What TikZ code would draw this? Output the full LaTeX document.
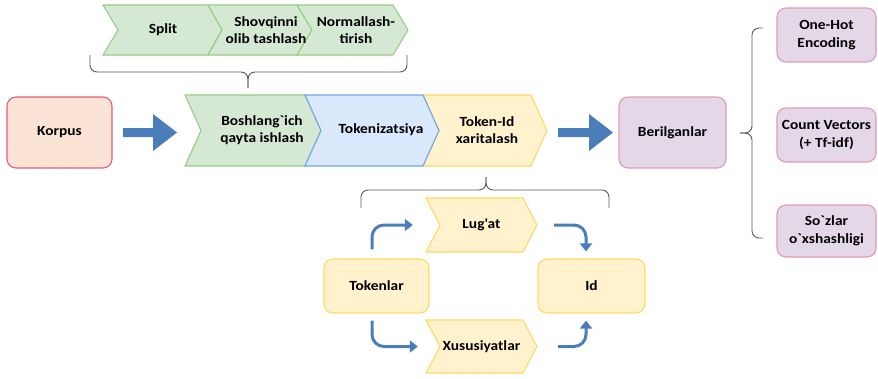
\documentclass[tikz,border=0pt]{standalone}
\usepackage{fontspec}
\setmainfont{Carlito}[FakeStretch=1.1,Ligatures=TeXOff]
\usetikzlibrary{arrows.meta}

\definecolor{gruenF}{HTML}{D5E8D4}
\definecolor{gruenR}{HTML}{97CC85}
\definecolor{blauF}{HTML}{DAE8FC}
\definecolor{blauR}{HTML}{6FA8E0}
\definecolor{gelbF}{HTML}{FFF2CC}
\definecolor{gelbR}{HTML}{FFD966}
\definecolor{korpusF}{HTML}{FBE4D5}
\definecolor{korpusR}{HTML}{E0607A}
\definecolor{lilaF}{HTML}{E4D7E8}
\definecolor{lilaR}{HTML}{E29AB2}
\definecolor{pfeilblau}{HTML}{4A7EBB}

\newcommand\schrift{\fontsize{14}{17.5}\selectfont\bfseries}

\tikzset{
  kasten/.style={draw, line width=1.1pt, rounded corners=9pt, align=center, font=\schrift, inner sep=2pt},
  chevtext/.style={align=center, font=\schrift, inner sep=0pt},
  chev/.style={line width=1.1pt},
  klammer/.style={draw=black!65, line width=0.9pt, rounded corners=7pt},
  bogen/.style={draw=pfeilblau, line width=3pt, rounded corners=12pt, -{Triangle[length=8pt,width=12pt]}},
  pfeil/.style={fill=pfeilblau},
}

\begin{document}
\begin{tikzpicture}[x=1pt, y=-1pt]
\useasboundingbox (0,0) rectangle (878,378);

		%obere Pfeilkette
		\draw[chev, fill=gruenF, draw=gruenR] (103,5) -- (208,5) -- (222,30) -- (208,55) -- (103,55) -- (118,30) -- cycle;
		\draw[chev, fill=gruenF, draw=gruenR] (208,5) -- (297,5) -- (312,30) -- (297,55) -- (208,55) -- (222,30) -- cycle;
		\draw[chev, fill=gruenF, draw=gruenR] (297,5) -- (393,5) -- (408,30) -- (393,55) -- (297,55) -- (312,30) -- cycle;
		\node[chevtext] (split) at (163,30) {Split};
		\node[chevtext] (shovq) at (266,30) {Shovqinni\\olib tashlash};
		\node[chevtext] (norm) at (356,30) {Normallash-\\tirish};

		%Klammer oben
		\draw[klammer] (90,55) -- (90,72) -- (248,72) -- (248,88);
		\draw[klammer] (407,55) -- (407,72) -- (248,72) -- (248,88);

		%Hauptzeile
		\node[kasten, draw=korpusR, fill=korpusF, minimum width=105, minimum height=71] (korpus) at (59.5,132.5) {Korpus};
		\fill[pfeil] (123,128) -- (153,128) -- (153,114) -- (177,132.5) -- (153,151) -- (153,137) -- (123,137) -- cycle;

		\draw[chev, fill=gruenF, draw=gruenR] (185,95) -- (305,95) -- (321,130.5) -- (305,166) -- (185,166) -- (201,130.5) -- cycle;
		\draw[chev, fill=gelbF, draw=gelbR] (423,95) -- (531,95) -- (547,130.5) -- (531,166) -- (423,166) -- (439,130.5) -- cycle;
		\draw[chev, fill=blauF, draw=blauR] (305,95) -- (423,95) -- (439,130.5) -- (423,166) -- (305,166) -- (321,130.5) -- cycle;
		\node[chevtext] (bosh) at (262,130) {Boshlang`ich\\qayta ishlash};
		\node[chevtext] (tokn) at (381,130) {Tokenizatsiya};
		\node[chevtext] (tid) at (487,130) {Token-Id\\xaritalash};

		\fill[pfeil] (558,128) -- (589,128) -- (589,114) -- (613,132.5) -- (589,151) -- (589,137) -- (558,137) -- cycle;
		\node[kasten, draw=lilaR, fill=lilaF, minimum width=107, minimum height=71] (beril) at (672.5,132.5) {Berilganlar};

		%Klammer rechts
		\draw[klammer] (763,28) -- (752,28) -- (752,133) -- (740,133);
		\draw[klammer] (763,238) -- (752,238) -- (752,133) -- (740,133);

		%rechte Kaesten
		\node[kasten, draw=lilaR, fill=lilaF, minimum width=99, minimum height=54] (onehot) at (826.5,35) {One-Hot\\Encoding};
		\node[kasten, draw=lilaR, fill=lilaF, minimum width=99, minimum height=54] (count) at (826.5,135) {Count Vectors\\(+ Tf-idf)};
		\node[kasten, draw=lilaR, fill=lilaF, minimum width=99, minimum height=52] (sozlar) at (826.5,231) {So`zlar\\o`xshashligi};

		%Klammer unten
		\draw[klammer] (361,208) -- (361,190) -- (486,190) -- (486,177);
		\draw[klammer] (609,208) -- (609,190) -- (486,190) -- (486,177);

		%untere Gruppe
		\draw[chev, fill=gelbF, draw=gelbR] (426,198) -- (523,198) -- (537,225) -- (523,252) -- (426,252) -- (440,225) -- cycle;
		\draw[chev, fill=gelbF, draw=gelbR] (426,320) -- (523,320) -- (537,346.5) -- (523,373) -- (426,373) -- (440,346.5) -- cycle;
		\node[chevtext, minimum width=111, minimum height=54] (lug) at (481.5,225) {Lug'at};
		\node[chevtext, minimum width=111, minimum height=53] (xus) at (481.5,346.5) {Xususiyatlar};

		\node[kasten, draw=gelbR, fill=gelbF, minimum width=105, minimum height=54] (tok) at (376.5,286) {Tokenlar};
		\node[kasten, draw=gelbR, fill=gelbF, minimum width=107, minimum height=54] (id) at (591.5,286) {Id};

		%Boegen
		\draw[bogen] ([xshift=-4.5pt, yshift=9pt]tok.north) |- ([xshift=-13pt]lug.west);
		\draw[bogen] ([xshift=17pt]lug.east) -| ([xshift=-5.5pt, yshift=7pt]id.north);
		\draw[bogen] ([xshift=-4.5pt, yshift=-7pt]tok.south) |- ([xshift=-8pt]xus.west);
		\draw[bogen] ([xshift=21pt]xus.east) -| ([xshift=-5.5pt, yshift=-7pt]id.south);
\end{tikzpicture}
\end{document}
